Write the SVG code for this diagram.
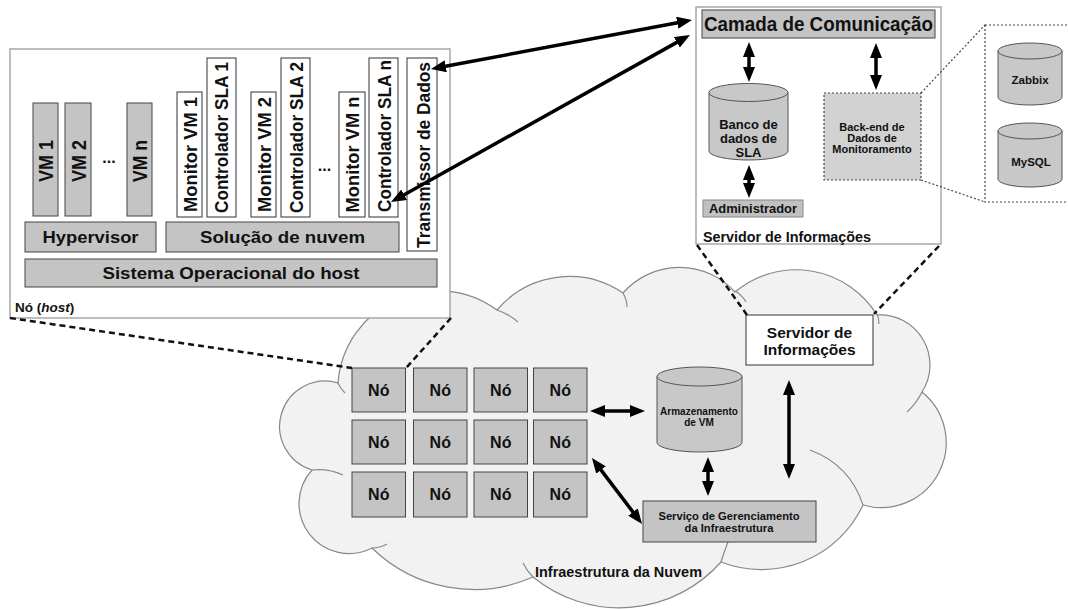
<svg xmlns="http://www.w3.org/2000/svg" width="1068" height="609" viewBox="0 0 1068 609">
<style>
  text{font-family:"Liberation Sans",Arial,Helvetica,sans-serif;font-weight:bold;fill:#111}
  .c{text-anchor:middle}
  .gbox{fill:#c4c4c4;stroke:#444;stroke-width:1}
  .wbox{fill:#fff;stroke:#333;stroke-width:1}
  .frame{fill:#fff;stroke:#a8a8a8;stroke-width:1.5}
  .cyl{fill:#c8c8c8;stroke:#555;stroke-width:1}
  .arrow{stroke:#000;stroke-width:3.5;fill:none;marker-start:url(#head);marker-end:url(#head)}
  .zoomline{stroke:#111;stroke-width:2.5;stroke-dasharray:6 4;fill:none}
  .dots{stroke:#444;stroke-width:1.2;stroke-dasharray:2 2;fill:none}
  .cloud{fill:#f2f2f2;stroke:#888;stroke-width:1.2}
  .inner{fill:none;stroke:#888;stroke-width:1.2}
</style>
<defs>
  <marker id="head" markerUnits="userSpaceOnUse" markerWidth="16" markerHeight="12" refX="3" refY="6" orient="auto-start-reverse" viewBox="0 0 16 12">
    <path d="M0,0 L15,6 L0,12 z" fill="#000"/>
  </marker>
</defs>

<!-- cloud infrastructure backdrop -->
<g id="cloud">
  <path class="cloud" d="M338,383 A100,100 0 0 1 497,310 A95,95 0 0 1 623,293 A75,75 0 0 1 735,292 A95,95 0 0 1 877,315 A50,50 0 0 1 922,392 A65,65 0 0 1 863,505 A112,112 0 0 1 721,562 A136,136 0 0 1 533,577 A146,146 0 0 1 372,548 A50,50 0 0 1 312,470 A45,45 0 0 1 338,383 Z"/>
  <path class="inner" d="M497,310 Q509,314 518,322"/>
  <path class="inner" d="M623,293 Q627,300 627,307"/>
  <path class="inner" d="M735,291 Q742,295 746,302"/>
  <path class="inner" d="M877,314 Q879,318 879,324"/>
  <path class="inner" d="M922,392 Q916,404 907,412"/>
  <path class="inner" d="M810,450 Q850,465 863,505"/>
  <path class="inner" d="M728,542 Q724,552 721,562"/>
  <path class="inner" d="M523,563 Q527,571 533,577"/>
  <path class="inner" d="M372,548 Q380,548 387,544"/>
  <path class="inner" d="M312,470 Q328,468 343,475"/>
  <path class="inner" d="M338,383 Q340,388 345,393"/>
  <text x="535" y="577" font-size="14" textLength="167" lengthAdjust="spacingAndGlyphs">Infraestrutura da Nuvem</text>
</g>

<!-- host node detail -->
<g id="host">
  <rect class="frame" x="10" y="49" width="440" height="269"/>
  <rect class="gbox" x="33" y="103" width="25" height="113"/>
  <rect class="gbox" x="65" y="103" width="26" height="113"/>
  <rect class="gbox" x="127" y="103" width="25" height="113"/>
  <text class="c" font-size="20" textLength="42" lengthAdjust="spacingAndGlyphs" transform="translate(53,161) rotate(-90)">VM 1</text>
  <text class="c" font-size="20" textLength="42" lengthAdjust="spacingAndGlyphs" transform="translate(85.5,161) rotate(-90)">VM 2</text>
  <text class="c" font-size="20" textLength="42" lengthAdjust="spacingAndGlyphs" transform="translate(147,161) rotate(-90)">VM n</text>
  <text class="c" x="109" y="163" font-size="16">...</text>

  <rect class="wbox" x="177" y="92" width="25" height="125"/>
  <rect class="wbox" x="207" y="58" width="29" height="159"/>
  <rect class="wbox" x="251" y="92" width="25" height="125"/>
  <rect class="wbox" x="281" y="58" width="29" height="159"/>
  <rect class="wbox" x="339" y="92" width="26" height="125"/>
  <rect class="wbox" x="369" y="58" width="29" height="159"/>
  <rect class="wbox" x="407" y="58" width="30" height="193"/>
  <text class="c" font-size="19" textLength="115" lengthAdjust="spacingAndGlyphs" transform="translate(196.5,154.5) rotate(-90)">Monitor VM 1</text>
  <text class="c" font-size="19" textLength="151" lengthAdjust="spacingAndGlyphs" transform="translate(228,137.5) rotate(-90)">Controlador SLA 1</text>
  <text class="c" font-size="19" textLength="115" lengthAdjust="spacingAndGlyphs" transform="translate(270.5,154.5) rotate(-90)">Monitor VM 2</text>
  <text class="c" font-size="19" textLength="151" lengthAdjust="spacingAndGlyphs" transform="translate(302.5,137.5) rotate(-90)">Controlador SLA 2</text>
  <text class="c" x="324.5" y="171" font-size="16">...</text>
  <text class="c" font-size="19" textLength="116" lengthAdjust="spacingAndGlyphs" transform="translate(358.5,154.5) rotate(-90)">Monitor VM n</text>
  <text class="c" font-size="19" textLength="152" lengthAdjust="spacingAndGlyphs" transform="translate(390.5,136) rotate(-90)">Controlador SLA n</text>
  <text class="c" font-size="19" textLength="186" lengthAdjust="spacingAndGlyphs" transform="translate(429.5,155) rotate(-90)">Transmissor de Dados</text>

  <rect class="gbox" x="25" y="222" width="131" height="30"/>
  <text class="c" x="90.5" y="243" font-size="16" textLength="96" lengthAdjust="spacingAndGlyphs">Hypervisor</text>
  <rect class="gbox" x="166" y="222" width="233" height="30"/>
  <text class="c" x="282.5" y="243" font-size="16" textLength="165" lengthAdjust="spacingAndGlyphs">Solução de nuvem</text>
  <rect class="gbox" x="25" y="259" width="412" height="28"/>
  <text class="c" x="231" y="279" font-size="16" textLength="257" lengthAdjust="spacingAndGlyphs">Sistema Operacional do host</text>
  <text x="15" y="312" font-size="13.5">Nó (<tspan font-style="italic">host</tspan>)</text>
</g>

<!-- information server detail -->
<g id="info-server">
  <rect class="frame" x="696" y="7" width="245" height="237"/>
  <rect class="gbox" x="702" y="10" width="233" height="28"/>
  <text class="c" x="818.5" y="31" font-size="20" textLength="229" lengthAdjust="spacingAndGlyphs">Camada de Comunicação</text>
  <path class="cyl" d="M709,92.5 V151 A39.5,9 0 0 0 788,151 V92.5 Z"/>
  <ellipse class="cyl" cx="748.5" cy="92.5" rx="39.5" ry="9"/>
  <text class="c" x="748.5" y="129" font-size="13">Banco de</text>
  <text class="c" x="748.5" y="143" font-size="13">dados de</text>
  <text class="c" x="748.5" y="157" font-size="13">SLA</text>
  <rect x="824" y="93" width="97" height="87" fill="#d2d2d2" stroke="#444" stroke-width="1.2" stroke-dasharray="2 2"/>
  <text class="c" x="872" y="130.5" font-size="11">Back-end de</text>
  <text class="c" x="872" y="141.5" font-size="11">Dados de</text>
  <text class="c" x="872" y="153" font-size="11">Monitoramento</text>
  <rect x="703" y="200" width="100" height="17" fill="#c0c0c0" stroke="#888" stroke-width="1"/>
  <text class="c" x="753" y="213" font-size="12.5" textLength="88" lengthAdjust="spacingAndGlyphs">Administrador</text>
  <text x="703" y="242" font-size="14" textLength="168" lengthAdjust="spacingAndGlyphs">Servidor de Informações</text>
</g>

<!-- monitoring back-end detail -->
<g id="backend-detail">
  <rect x="985" y="25" width="90" height="177" fill="#fff" stroke="#444" stroke-width="1.2" stroke-dasharray="2 2"/>
  <path class="cyl" d="M998,51 V97 A32,8 0 0 0 1062,97 V51 Z"/>
  <ellipse class="cyl" cx="1030" cy="51" rx="32" ry="8"/>
  <text class="c" x="1030" y="84" font-size="11.5">Zabbix</text>
  <path class="cyl" d="M998,131 V179 A32,8 0 0 0 1062,179 V131 Z"/>
  <ellipse class="cyl" cx="1030" cy="131" rx="32" ry="8"/>
  <text class="c" x="1031" y="166" font-size="11.5">MySQL</text>
</g>

<!-- node grid -->
<g id="nodes">
  <rect class="gbox" x="352" y="368" width="53.5" height="44"/>
  <rect class="gbox" x="413.5" y="368" width="53.5" height="44"/>
  <rect class="gbox" x="474" y="368" width="53.5" height="44"/>
  <rect class="gbox" x="533.5" y="368" width="53.5" height="44"/>
  <rect class="gbox" x="352" y="420" width="53.5" height="44"/>
  <rect class="gbox" x="413.5" y="420" width="53.5" height="44"/>
  <rect class="gbox" x="474" y="420" width="53.5" height="44"/>
  <rect class="gbox" x="533.5" y="420" width="53.5" height="44"/>
  <rect class="gbox" x="352" y="472" width="53.5" height="45"/>
  <rect class="gbox" x="413.5" y="472" width="53.5" height="45"/>
  <rect class="gbox" x="474" y="472" width="53.5" height="45"/>
  <rect class="gbox" x="533.5" y="472" width="53.5" height="45"/>
  <text class="c" x="378.75" y="395.5" font-size="16">Nó</text>
  <text class="c" x="440.25" y="395.5" font-size="16">Nó</text>
  <text class="c" x="500.75" y="395.5" font-size="16">Nó</text>
  <text class="c" x="560.25" y="395.5" font-size="16">Nó</text>
  <text class="c" x="378.75" y="447.5" font-size="16">Nó</text>
  <text class="c" x="440.25" y="447.5" font-size="16">Nó</text>
  <text class="c" x="500.75" y="447.5" font-size="16">Nó</text>
  <text class="c" x="560.25" y="447.5" font-size="16">Nó</text>
  <text class="c" x="378.75" y="500" font-size="16">Nó</text>
  <text class="c" x="440.25" y="500" font-size="16">Nó</text>
  <text class="c" x="500.75" y="500" font-size="16">Nó</text>
  <text class="c" x="560.25" y="500" font-size="16">Nó</text>
</g>

<g id="vm-storage">
  <path class="cyl" d="M657,376.5 V442.5 A42.5,9.5 0 0 0 742,442.5 V376.5 Z"/>
  <ellipse class="cyl" cx="699.5" cy="376.5" rx="42.5" ry="9.5"/>
  <text class="c" x="699" y="414.5" font-size="10">Armazenamento</text>
  <text class="c" x="699" y="425.5" font-size="10">de VM</text>
</g>

<g id="info-server-node">
  <rect class="wbox" x="746" y="315" width="127" height="50"/>
  <text class="c" x="809.5" y="337.5" font-size="15.5">Servidor de</text>
  <text class="c" x="809.5" y="355" font-size="15.5">Informações</text>
</g>

<g id="infra-manager">
  <rect class="gbox" x="643" y="501" width="173" height="41"/>
  <text class="c" x="729" y="520" font-size="11.2">Serviço de Gerenciamento</text>
  <text class="c" x="729" y="532" font-size="11.2">da Infraestrutura</text>
</g>

<!-- connectors -->
<g id="connectors">
  <line class="zoomline" x1="10" y1="318" x2="352" y2="368"/>
  <line class="zoomline" x1="451" y1="318" x2="406" y2="368"/>
  <line class="zoomline" x1="697" y1="245" x2="747" y2="315"/>
  <line class="zoomline" x1="939" y1="246" x2="874" y2="314"/>
  <line class="dots" x1="921" y1="93" x2="985" y2="25"/>
  <line class="dots" x1="921" y1="180" x2="985" y2="202"/>

  <line class="arrow" x1="442.8" y1="66.8" x2="680.2" y2="22.2"/>
  <line class="arrow" x1="401.5" y1="196.2" x2="679.5" y2="40.9"/>
  <line class="arrow" x1="749" y1="54" x2="749" y2="70"/>
  <line class="arrow" x1="749" y1="177" x2="749" y2="186"/>
  <line class="arrow" x1="876" y1="55" x2="876" y2="78"/>
  <line class="arrow" x1="602" y1="411" x2="633" y2="411"/>
  <line class="arrow" x1="599.2" y1="467.6" x2="634.8" y2="514.4"/>
  <line class="arrow" x1="708" y1="469" x2="708" y2="484"/>
  <line class="arrow" x1="789" y1="392" x2="789" y2="467"/>
</g>
</svg>
